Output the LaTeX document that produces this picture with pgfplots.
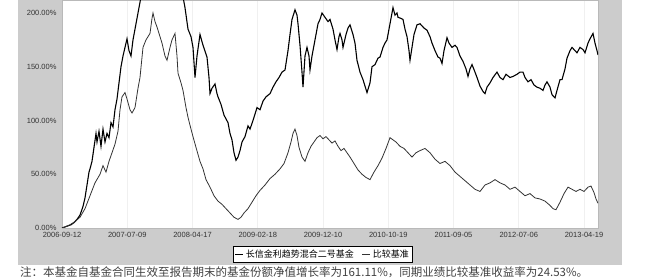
\documentclass[border=0pt]{standalone}
\usepackage{pgfplots}
\pgfplotsset{compat=1.18}
\usepackage{fontspec}
\setmainfont{Liberation Sans}
\newfontfamily\cjk{Noto Sans CJK SC}
\begin{document}
\begin{tikzpicture}[x=1pt,y=1pt]
\path[use as bounding box] (0,0) rectangle (655,278);
\fill[gray!40] (18,13) rectangle (622,278);
\begin{axis}[
  at={(62pt,50pt)}, anchor=south west, scale only axis,
  width=536pt, height=228pt,
  xmin=62, xmax=598, ymin=0, ymax=212.1,
  axis background/.style={fill=white},
  axis line style={gray!55, line width=0.4pt},
  xtick={62,127.25,192.5,257.75,323,388.25,453.5,518.75,584},
  xticklabels={2006-09-12,2007-07-09,2008-04-17,2009-02-18,2009-12-10,2010-10-19,2011-09-05,2012-07-06,2013-04-19},
  ytick={0,50,100,150,200},
  yticklabels={0.00\%,50.00\%,100.00\%,150.00\%,200.00\%},
  major tick length=0pt,
  xmajorgrids, grid style={gray!12, line width=0.6pt},
  tick label style={font=\fontsize{7.5}{8}\selectfont, text=black!80},
  yticklabel style={xshift=-2pt},
  xticklabel style={yshift=-0.5pt},
  legend columns=2,
  legend style={at={(0.319,-0.079)}, anchor=north west, draw=black, line width=0.9pt,
    fill=white, font=\cjk\fontsize{9}{10}\selectfont, inner sep=1.5pt,
    /tikz/every even column/.append style={column sep=6pt}},
  legend image code/.code={\draw[#1, line width=1pt] (0pt,0pt) -- (8pt,0pt);},
]
\addplot[black, line width=1.1pt] coordinates {(62,0)(65,1)(68,2)(71,3)(74,5)(77,8)(80,12)(83,20)(85,28)(87,40)(89,52)(90,55)(92,62)(94,75)(96,88)(97,80)(99,90)(101,76)(103,92)(105,80)(107,88)(109,84)(111,98)(113,94)(115,110)(117,120)(119,135)(121,150)(123,160)(125,168)(127,176)(129,165)(131,160)(133,175)(135,185)(137,195)(139,205)(141,215)(145,225)(150,232)(155,228)(160,235)(165,230)(170,238)(175,230)(180,225)(183,215)(185,205)(188,185)(191,178)(193,168)(195,140)(197,160)(200,180)(203,170)(207,159)(209,140)(210,125)(212,130)(215,134)(217,125)(218,122)(221,115)(224,105)(228,98)(230,88)(232,82)(234,70)(236,63)(238,66)(240,72)(242,80)(245,85)(248,95)(250,92)(253,100)(257,112)(260,110)(263,118)(266,122)(270,125)(273,131)(276,136)(279,140)(282,145)(285,147)(288,165)(290,180)(292,194)(295,203)(297,198)(298,190)(300,170)(302,145)(303,131)(305,160)(307,168)(309,160)(310,147)(312,160)(315,175)(318,190)(320,194)(322,200)(325,196)(328,192)(330,194)(333,185)(335,175)(337,166)(339,178)(340,181)(342,175)(343,168)(346,180)(348,186)(350,189)(353,180)(355,172)(357,156)(360,145)(363,138)(367,126)(370,135)(372,150)(375,152)(378,158)(380,159)(383,168)(385,172)(387,175)(390,190)(393,205)(395,198)(397,200)(398,196)(401,195)(403,194)(405,185)(407,178)(409,165)(410,156)(412,168)(414,180)(417,189)(420,190)(424,186)(427,184)(430,178)(432,172)(435,165)(438,159)(440,158)(442,153)(444,165)(447,177)(449,172)(452,168)(455,170)(457,168)(460,160)(463,155)(466,148)(468,141)(470,148)(472,152)(475,145)(477,140)(480,132)(483,127)(485,125)(487,131)(490,135)(493,140)(497,145)(500,140)(503,138)(506,143)(510,140)(513,141)(517,143)(520,145)(523,145)(525,140)(528,136)(531,138)(534,133)(537,131)(540,130)(543,128)(545,133)(547,136)(550,131)(552,124)(555,121)(557,128)(560,138)(562,138)(565,148)(567,158)(570,165)(572,168)(575,165)(577,163)(580,168)(583,166)(585,163)(588,172)(590,176)(593,181)(595,172)(597,165)(598,161)};
\addlegendentry{长信金利趋势混合二号基金}
\addplot[black!80, line width=0.8pt] coordinates {(62,0)(65,1)(70,3)(75,6)(80,10)(85,18)(90,30)(95,42)(100,50)(103,58)(106,52)(109,62)(112,70)(115,78)(118,90)(120,110)(122,122)(125,126)(127,120)(130,110)(132,107)(135,112)(138,130)(140,140)(143,168)(146,175)(150,181)(152,195)(153,200)(155,192)(157,187)(160,178)(162,172)(165,160)(167,156)(170,168)(172,175)(175,181)(177,160)(178,144)(181,135)(183,128)(186,112)(188,103)(191,92)(193,85)(196,75)(200,62)(203,55)(206,45)(210,38)(214,30)(218,25)(222,22)(226,18)(230,14)(234,10)(238,8)(241,10)(244,14)(248,18)(252,24)(256,30)(260,35)(265,40)(270,46)(275,50)(280,55)(284,60)(288,70)(291,80)(293,88)(295,92)(297,86)(299,75)(302,66)(305,62)(308,70)(311,76)(314,80)(317,84)(320,86)(323,83)(326,85)(329,82)(332,79)(335,81)(338,76)(341,72)(344,74)(347,70)(350,66)(354,60)(358,54)(362,50)(366,47)(370,45)(374,52)(378,58)(382,65)(386,74)(390,84)(393,82)(396,80)(400,76)(404,74)(408,70)(412,66)(416,70)(420,72)(425,74)(430,70)(435,64)(440,60)(445,62)(450,58)(455,52)(460,48)(465,44)(470,40)(475,36)(480,34)(485,40)(490,42)(495,45)(500,42)(505,40)(510,36)(515,38)(520,34)(525,30)(530,32)(535,28)(540,27)(545,25)(550,21)(553,18)(556,17)(560,24)(564,32)(568,38)(572,36)(576,34)(580,36)(584,34)(588,38)(591,39)(594,33)(596,27)(598,23)};
\addlegendentry{比较基准}
\end{axis}
\node[anchor=north west, inner sep=0pt, font=\cjk\fontsize{11.5}{12}\selectfont, text=black!75] at (20,11) {注：本基金自基金合同生效至报告期末的基金份额净值增长率为161.11\%，同期业绩比较基准收益率为24.53\%。};
\end{tikzpicture}
\end{document}
